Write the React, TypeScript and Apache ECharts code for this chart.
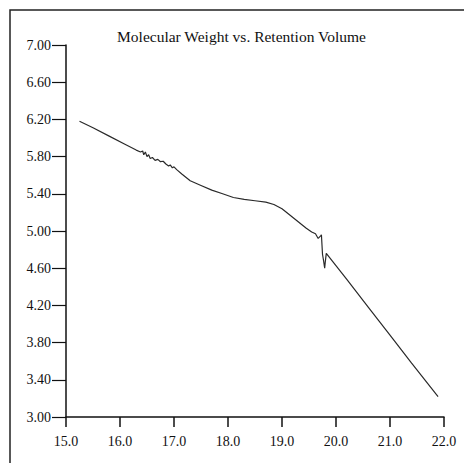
import React, { useEffect, useRef } from "react";
import * as echarts from "echarts";

// Retention volume (mL) and log molecular weight of the calibration trace
const retentionVolume = [
  15.25, 15.5, 15.8, 16.1, 16.3, 16.38, 16.42, 16.44, 16.47, 16.5, 16.53, 16.56,
  16.6, 16.65, 16.7, 16.75, 16.8, 16.85, 16.9, 16.93, 16.97, 17.0, 17.05, 17.15,
  17.3, 17.5, 17.7, 17.9, 18.1, 18.3, 18.5, 18.7, 18.85, 19.0, 19.15, 19.3,
  19.45, 19.55, 19.62, 19.67, 19.72, 19.73, 19.75, 19.77, 19.79, 19.8, 19.82,
  20.2, 20.6, 21.0, 21.4, 21.89,
];
const logMolecularWeight = [
  6.18, 6.11, 6.02, 5.93, 5.87, 5.85, 5.86, 5.82, 5.85, 5.8, 5.82, 5.78,
  5.79, 5.76, 5.77, 5.745, 5.75, 5.72, 5.7, 5.71, 5.68, 5.69, 5.66, 5.61,
  5.54, 5.49, 5.44, 5.4, 5.36, 5.34, 5.325, 5.31, 5.285, 5.24, 5.17, 5.1,
  5.03, 4.99, 4.97, 4.92, 4.95, 4.96, 4.75, 4.68, 4.6, 4.66, 4.76,
  4.48, 4.18, 3.88, 3.58, 3.22,
];

const titleText = "Molecular Weight vs. Retention Volume";
const serif = "'Liberation Serif', 'DejaVu Serif', serif";

export default function App() {
  const ref = useRef<HTMLDivElement>(null);

  useEffect(() => {
    document.body.style.margin = "0";
    if (!ref.current) return;
    const chart = echarts.init(ref.current, null, { renderer: "svg" });
    const points = retentionVolume.map((x, i) => [x, logMolecularWeight[i]]);

    chart.setOption({
      animation: false,
      backgroundColor: "#ffffff",
      textStyle: { fontFamily: serif },
      graphic: [
        {
          type: "rect",
          shape: { x: 10, y: 10, width: 480, height: 480 },
          style: { fill: "none", stroke: "#222", lineWidth: 1.5 },
          silent: true,
        },
        {
          type: "text",
          x: 241.5,
          y: 36,
          style: {
            text: titleText,
            fontFamily: serif,
            fontSize: 15.5,
            fill: "#111",
            align: "center",
            verticalAlign: "middle",
          },
          silent: true,
        },
      ],
      grid: { left: 66, top: 45, right: 20, bottom: 46 },
      xAxis: {
        type: "value",
        min: 15,
        max: 22,
        interval: 1,
        axisLine: { show: true, lineStyle: { color: "#111", width: 1.5 } },
        axisTick: { show: true, length: 10, lineStyle: { color: "#111", width: 1.5 } },
        axisLabel: {
          margin: 17,
          fontFamily: serif,
          fontSize: 14,
          color: "#111",
          formatter: (v: number) => v.toFixed(1),
        },
        splitLine: { show: false },
      },
      yAxis: {
        type: "value",
        min: 3,
        max: 7,
        interval: 0.4,
        axisLine: { show: true, lineStyle: { color: "#111", width: 1.5 } },
        axisTick: { show: true, length: 14, lineStyle: { color: "#111", width: 1.2 } },
        axisLabel: {
          margin: 15,
          fontFamily: serif,
          fontSize: 14,
          color: "#111",
          formatter: (v: number) => v.toFixed(2),
        },
        splitLine: { show: false },
      },
      series: [
        {
          type: "line",
          data: points,
          showSymbol: false,
          lineStyle: { color: "#2a2a2a", width: 1.2 },
        },
      ],
    });

    return () => chart.dispose();
  }, []);

  return <div ref={ref} style={{ width: 464, height: 463 }} />;
}
